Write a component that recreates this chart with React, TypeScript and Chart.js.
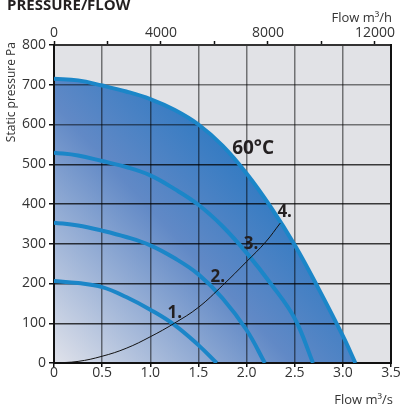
import React, { useEffect, useRef } from 'react';
import { Chart, registerables } from 'chart.js';

const FONT = '"Open Sans", "DejaVu Sans", sans-serif';

// Outer envelope (max speed, 60°C)
const ENVELOPE_FLOW = [0, 0.25, 0.5, 0.75, 1.0, 1.25, 1.5, 1.75, 2.0, 2.25, 2.5, 2.75, 3.0, 3.13];
const ENVELOPE_PRESSURE = [715, 711, 698, 683, 664, 637, 600, 547, 477, 393, 297, 186, 68, 0];
// Speed curves
const SPEED3_FLOW = [0, 0.25, 0.5, 0.75, 1.0, 1.25, 1.5, 1.75, 2.0, 2.25, 2.5, 2.69];
const SPEED3_PRESSURE = [529, 522, 508, 493, 472, 438, 398, 344, 277, 200, 112, 0];
const SPEED2_FLOW = [0, 0.25, 0.5, 0.75, 1.0, 1.25, 1.5, 1.75, 2.0, 2.19];
const SPEED2_PRESSURE = [353, 346, 333, 317, 296, 264, 223, 163, 83, 0];
const SPEED1_FLOW = [0, 0.25, 0.5, 0.75, 1.0, 1.25, 1.5, 1.69];
const SPEED1_PRESSURE = [206, 201, 191, 166, 134, 96, 45, 0];
// System curve
const SYSTEM_FLOW = [0, 0.25, 0.5, 0.75, 1.0, 1.25, 1.5, 1.75, 2.0, 2.2, 2.35];
const SYSTEM_PRESSURE = [0, 4, 17, 37, 66, 100, 140, 195, 255, 305, 352];

const TOP_TICKS = [0, 2000, 4000, 6000, 8000, 10000, 12000];
const TOP_LABELED = [0, 4000, 8000, 12000];

const CURVE_LABELS = ['1.', '2.', '3.', '4.'];

const BLUE = '#1b86c8';

const toPoints = (xs: number[], ys: number[]) => xs.map((x, i) => ({ x, y: ys[i] }));

const bgPlugin = {
  id: 'plotBg',
  beforeDraw(chart: any) {
    const { ctx, chartArea: a } = chart;
    if (!a) return;
    ctx.save();
    ctx.fillStyle = '#e1e2e6';
    ctx.fillRect(a.left, a.top, a.right - a.left, a.bottom - a.top);
    ctx.restore();
  },
};

Chart.register(bgPlugin);
Chart.register(...registerables);

const textPlugin = {
  id: 'texts',
  afterDraw(chart: any) {
    const { ctx, chartArea: a, scales } = chart;
    const xs = scales.x;
    const ys = scales.y;
    ctx.save();
    // right border
    ctx.strokeStyle = '#111';
    ctx.lineWidth = 2;
    ctx.beginPath();
    ctx.moveTo(a.right, a.top - 1);
    ctx.lineTo(a.right, a.bottom + 1);
    ctx.stroke();

    ctx.fillStyle = '#231f20';
    ctx.textBaseline = 'alphabetic';
    ctx.textAlign = 'left';
    ctx.font = `bold 15px ${FONT}`;
    ctx.fillText('PRESSURE/FLOW', 7, 9.5);

    ctx.fillStyle = '#333';
    ctx.font = `13px ${FONT}`;
    ctx.textAlign = 'right';
    ctx.fillText('Flow m³/h', 392, 22);
    ctx.fillText('Flow m³/s', 393, 404);

    ctx.save();
    ctx.font = `12px ${FONT}`;
    ctx.translate(15, 42);
    ctx.rotate(-Math.PI / 2);
    ctx.textAlign = 'right';
    ctx.fillText('Static pressure Pa', 0, 0);
    ctx.restore();

    ctx.fillStyle = '#231f20';
    ctx.textAlign = 'left';
    ctx.font = `bold 19px ${FONT}`;
    ctx.fillText('60°C', xs.getPixelForValue(1.85), ys.getPixelForValue(526));

    const anchors = [
      [1.18, 114],
      [1.625, 204],
      [1.97, 287],
      [2.32, 368],
    ];
    ctx.font = `bold 17px ${FONT}`;
    CURVE_LABELS.forEach((t, i) => {
      ctx.fillText(t, xs.getPixelForValue(anchors[i][0]), ys.getPixelForValue(anchors[i][1]));
    });
    ctx.restore();
  },
};

const gradientFill = (c: any) => {
  const chart = c.chart;
  const area = chart.chartArea;
  if (!area) return 'rgba(0,0,0,0)';
  const w = area.right - area.left;
  const h = area.bottom - area.top;
  const g = chart.ctx.createLinearGradient(area.left, area.bottom, area.left + w * 0.85, area.top + h * 0.17);
  g.addColorStop(0, '#e0e2ea');
  g.addColorStop(0.45, '#6189c6');
  g.addColorStop(0.72, '#317ac2');
  g.addColorStop(1, '#2375bf');
  return g;
};

const tickFont = { family: FONT, size: 14 };

export default function App() {
  const ref = useRef<HTMLCanvasElement | null>(null);

  useEffect(() => {
    if (!ref.current) return;
    const lineBase = {
      borderColor: BLUE,
      borderWidth: 4,
      pointRadius: 0,
      fill: false,
      tension: 0.4,
      xAxisID: 'x',
      yAxisID: 'y',
    };
    const chart = new Chart(ref.current, {
      type: 'line',
      data: {
        datasets: [
          { ...lineBase, label: 'System', data: toPoints(SYSTEM_FLOW, SYSTEM_PRESSURE), borderColor: '#111', borderWidth: 1 },
          { ...lineBase, label: 'Speed 1', data: toPoints(SPEED1_FLOW, SPEED1_PRESSURE) },
          { ...lineBase, label: 'Speed 2', data: toPoints(SPEED2_FLOW, SPEED2_PRESSURE) },
          { ...lineBase, label: 'Speed 3', data: toPoints(SPEED3_FLOW, SPEED3_PRESSURE) },
          {
            ...lineBase,
            label: 'Speed 4',
            data: toPoints(ENVELOPE_FLOW, ENVELOPE_PRESSURE),
            fill: 'origin',
            backgroundColor: gradientFill,
          },
        ],
      },
      options: {
        animation: false,
        responsive: false,
        devicePixelRatio: 1,
        layout: { padding: { left: 0, right: 10, top: 0, bottom: 0 } },
        plugins: {
          legend: { display: false },
          tooltip: { enabled: false },
          filler: { drawTime: 'beforeDraw' },
        },
        scales: {
          x: {
            type: 'linear',
            position: 'bottom',
            min: 0,
            max: 3.5,
            ticks: {
              stepSize: 0.5,
              autoSkip: false,
              maxRotation: 0,
              padding: -2,
              color: '#333',
              font: tickFont,
              callback: (v: any) => (Number(v) === 0 ? '0' : Number(v).toFixed(1)),
            },
            grid: { color: 'rgba(0,0,0,0.5)', lineWidth: 1.5, tickLength: 4, tickColor: '#111', tickWidth: 1.5 },
            border: { color: '#111', width: 2 },
            afterFit: (s: any) => {
              s.height = 46;
              s.paddingLeft = 0;
              s.paddingRight = 0;
            },
          },
          x2: {
            type: 'linear',
            position: 'top',
            min: 0,
            max: 12600,
            afterBuildTicks: (s: any) => {
              s.ticks = TOP_TICKS.map((v) => ({ value: v }));
            },
            ticks: {
              autoSkip: false,
              maxRotation: 0,
              padding: 0,
              color: '#333',
              font: tickFont,
              callback: (v: any) => (TOP_LABELED.includes(Number(v)) ? String(v) : ''),
            },
            grid: { drawOnChartArea: false, tickLength: 4, tickColor: '#111', tickWidth: 1.5 },
            border: { color: '#333', width: 2 },
            afterFit: (s: any) => {
              s.height = 45;
              s.paddingLeft = 0;
              s.paddingRight = 0;
            },
          },
          y: {
            type: 'linear',
            position: 'left',
            min: 0,
            max: 800,
            ticks: { stepSize: 100, padding: 3, color: '#333', font: tickFont },
            grid: {
              color: (c: any) => (c.tick && c.tick.value <= 500 ? 'rgba(0,0,0,0.75)' : 'rgba(0,0,0,0.5)'),
              lineWidth: 1.5,
              tickLength: 5,
              tickColor: '#111',
              tickWidth: 1.5,
            },
            border: { color: '#111', width: 2 },
            afterFit: (s: any) => {
              s.width = 54;
              s.paddingTop = 0;
              s.paddingBottom = 0;
            },
          },
        },
      },
      plugins: [textPlugin],
    } as any);
    return () => chart.destroy();
  }, []);

  return (
    <div style={{ position: 'absolute', left: 0, top: 0, width: 401, height: 409, background: '#fff' }}>
      <canvas ref={ref} width={401} height={409} style={{ display: 'block' }} />
    </div>
  );
}
